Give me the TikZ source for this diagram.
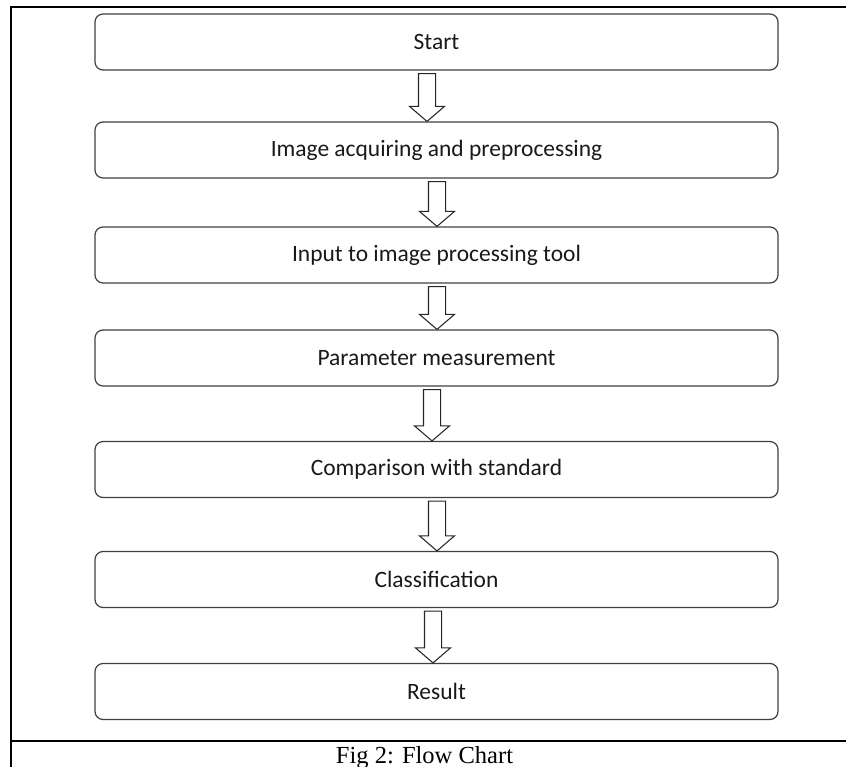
\documentclass[tikz,border=0pt]{standalone}
\usepackage{fontspec}
\setmainfont{Carlito}
\newfontfamily\capfont{Liberation Serif}
\usetikzlibrary{calc}
\tikzset{
  stepbox/.style={draw=black!75, line width=0.9pt, rounded corners=6pt,
    minimum width=512.25pt, minimum height=42pt, inner sep=0pt,
    font=\fontsize{17.6}{20}\selectfont, text=black!90},
  hollowarrow/.style={draw=black!85, line width=0.8pt, fill=white, line join=miter},
  frameline/.style={draw=black, line width=2pt},
}
\newcommand{\harrow}[3]{%
  \draw[hollowarrow] let \p1=(#1.south), \p2=(#2.north) in
    ({#3*0.75pt-6.4pt},\y1-2.25pt) -- ({#3*0.75pt+6.4pt},\y1-2.25pt) --
    ({#3*0.75pt+6.4pt},\y2+11.25pt) -- ({#3*0.75pt+13.1pt},\y2+11.25pt) --
    ({#3*0.75pt},\y2) -- ({#3*0.75pt-13.1pt},\y2+11.25pt) --
    ({#3*0.75pt-6.4pt},\y2+11.25pt) -- cycle;}
\begin{document}
\begin{tikzpicture}[x=0.75pt,y=-0.75pt]
\useasboundingbox (0,0) rectangle (846,767);
% frame
\draw[frameline] (11,767) -- (11,7) -- (846,7);
\draw[frameline] (11,741) -- (846,741);
% boxes
\node[stepbox] (b1) at (436.5,42) {Start};
\node[stepbox] (b2) at (436.5,150) {Image acquiring and preprocessing};
\node[stepbox] (b3) at (436.5,255) {Input to image processing tool};
\node[stepbox] (b4) at (436.5,358) {Parameter measurement};
\node[stepbox] (b5) at (436.5,469.5) {Comparison with standard};
\node[stepbox] (b6) at (436.5,579.5) {Classification};
\node[stepbox] (b7) at (436.5,691.5) {Result};
% arrows
\harrow{b1}{b2}{427}
\harrow{b2}{b3}{437}
\harrow{b3}{b4}{437}
\harrow{b4}{b5}{432}
\harrow{b5}{b6}{437}
\harrow{b6}{b7}{433}
% caption
\node[anchor=base, font=\capfont\fontsize{18.4}{20}\selectfont, inner sep=0pt] (cap) at (424.5,763) {Fig 2: Flow Chart};
\end{tikzpicture}
\end{document}
